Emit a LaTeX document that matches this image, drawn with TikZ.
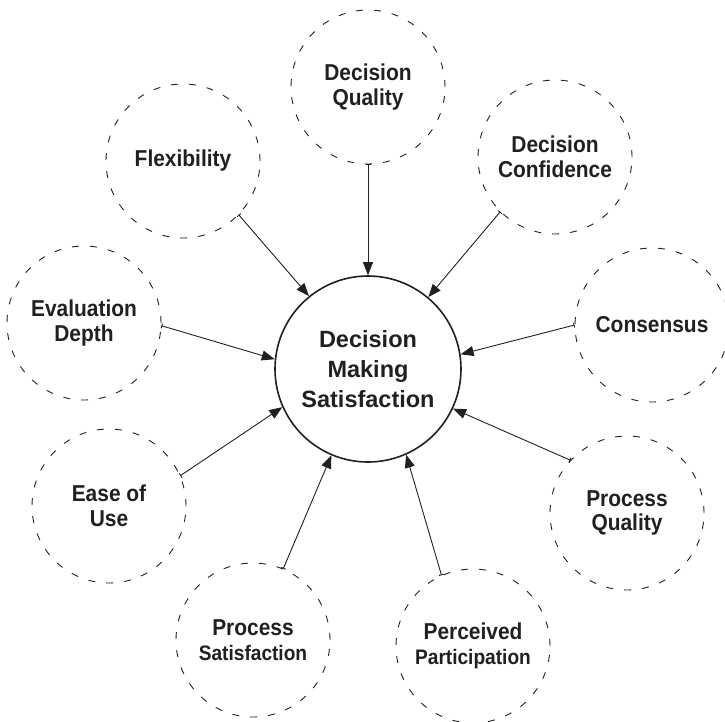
\documentclass[tikz,border=0pt]{standalone}
\usepackage{fontspec}
\setmainfont{Liberation Sans}
\newfontfamily\condfont{Liberation Sans}[FakeStretch=0.91]
\usetikzlibrary{arrows.meta}
\definecolor{ink}{HTML}{231F20}
\tikzset{
  factor/.style  ={draw=ink, circle, dash pattern=on 7pt off 11pt, line width=0.9pt,
                   minimum size=154pt, inner sep=0pt, align=center, text=ink,
                   font=\condfont\bfseries\fontsize{23}{24.5}\selectfont},
  core/.style    ={draw=ink, circle, line width=1.6pt, minimum size=186pt,
                   inner sep=0pt, align=center, text=ink,
                   font=\bfseries\fontsize{23.5}{30}\selectfont},
  linkarr/.style ={{Bar[width=5pt]}-{Triangle[length=13pt,width=10pt]},
                   line width=0.9pt, draw=ink},
}
\newcommand{\smallline}[1]{{\fontsize{21}{24.5}\selectfont #1}}

\begin{document}
\begin{tikzpicture}[x=1pt,y=-1pt]
        \useasboundingbox (0,0) rectangle (725,721);

        % outcome
        \node[core] (dms) at (368,369) {Decision\\Making\\Satisfaction};

        % antecedents
        \node[factor] (dq)      at (368,87)  {Decision\\Quality};
        \node[factor] (flex)    at (183,161) {Flexibility};
        \node[factor] (conf)    at (555,157) {Decision\\Confidence};
        \node[factor] (cons)    at (652,325) {Consensus};
        \node[factor] (evdepth) at (84,323)  {Evaluation\\Depth};
        \node[factor] (ease)    at (109,506) {Ease of\\Use};
        \node[factor] (procq)   at (627,513) {Process\\Quality};
        \node[factor] (procsat) at (253,640) {Process\\\smallline{Satisfaction}};
        \node[factor] (partic)  at (473,646) {Perceived\\\smallline{Participation}};

        % links into the centre
        \draw[linkarr] (dq.270)      -- (dms.90);
        \draw[linkarr] (flex.316)    -- (dms.129);
        \draw[linkarr] (conf.225)    -- (dms.50);
        \draw[linkarr] (cons.180)    -- (dms.9);
        \draw[linkarr] (evdepth.-2)  -- (dms.174);
        \draw[linkarr] (ease.23)     -- (dms.204);
        \draw[linkarr] (procq.137)   -- (dms.335);
        \draw[linkarr] (procsat.67)  -- (dms.247);
        \draw[linkarr] (partic.114)  -- (dms.294);
      \end{tikzpicture}
\end{document}
